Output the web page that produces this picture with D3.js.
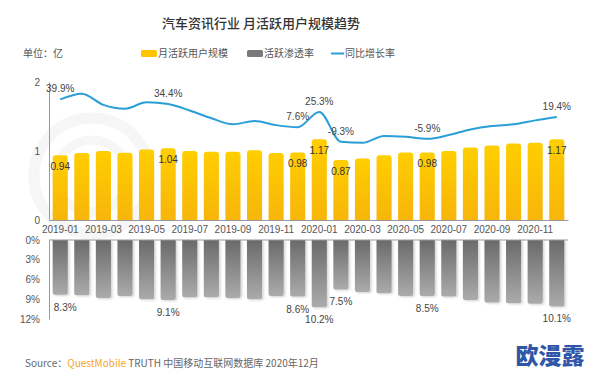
<!DOCTYPE html>
<html>
<head>
<meta charset="utf-8">
<script src="https://cdn.jsdelivr.net/npm/d3@7"></script>
<style>
html,body{margin:0;padding:0;background:#fff;}
svg{display:block;font-family:"Liberation Sans","Noto Sans CJK SC",sans-serif;}
</style>
</head>
<body>
<svg id="c" width="594" height="376"></svg>
<script>
const months = ["2019-01","2019-02","2019-03","2019-04","2019-05","2019-06","2019-07","2019-08","2019-09","2019-10","2019-11","2019-12",
                "2020-01","2020-02","2020-03","2020-04","2020-05","2020-06","2020-07","2020-08","2020-09","2020-10","2020-11","2020-12"];
const mau = [0.94,0.97,1.00,0.975,1.02,1.04,1.00,0.99,0.99,1.01,0.97,0.98,
             1.17,0.87,0.89,0.94,0.98,0.98,1.00,1.05,1.08,1.11,1.12,1.17];
const penetration = [8.3,8.4,8.8,8.5,9.0,9.1,8.7,8.7,8.8,9.0,8.5,8.6,
                     10.2,7.5,7.9,8.1,8.5,8.5,8.6,9.1,9.5,9.6,9.7,10.1];
const growth = [39.9,46.5,33.5,29.0,36.5,34.4,27.0,18.0,11.0,14.8,10.0,7.6,
                25.3,-9.3,-10.5,-2.5,-3.5,-5.9,-1.5,5.0,9.0,11.0,15.5,19.4];
const labelIdx = [0,5,11,12,13,17,23];
const leftTicks = [0,1,2];
const bottomTicks = [0,3,6,9,12];
const xTickLabels = months.filter((m,i)=>i%2===0);

const svg = d3.select("#c");
const defs = svg.append("defs");
const gy = defs.append("linearGradient").attr("id","gy").attr("x1",0).attr("y1",0).attr("x2",0).attr("y2",1);
gy.append("stop").attr("offset","0%").attr("stop-color","#FFCE00");
gy.append("stop").attr("offset","100%").attr("stop-color","#F7B50A");
const gg = defs.append("linearGradient").attr("id","gg").attr("x1",0).attr("y1",0).attr("x2",0).attr("y2",1);
gg.append("stop").attr("offset","0%").attr("stop-color","#6a6a6a");
gg.append("stop").attr("offset","100%").attr("stop-color","#ababab");
const sh = defs.append("filter").attr("id","sh").attr("x","-20%").attr("y","-10%").attr("width","150%").attr("height","130%");
sh.append("feDropShadow").attr("dx",1.5).attr("dy",1).attr("stdDeviation",1).attr("flood-color","#000").attr("flood-opacity",0.18);

// faint watermark ring
const wm = svg.append("g").attr("fill","none").attr("stroke","#f6f6f6");
wm.append("circle").attr("cx",92).attr("cy",176).attr("r",58).attr("stroke-width",11);
wm.append("circle").attr("cx",92).attr("cy",176).attr("r",36).attr("stroke-width",9);

// title
svg.append("text").attr("x",261).attr("y",28).attr("text-anchor","middle")
  .attr("font-size",13).attr("font-weight",500).attr("fill","#333")
  .attr("font-family","Noto Sans CJK SC").text("汽车资讯行业 月活跃用户规模趋势");

svg.append("text").attr("x",23).attr("y",57).attr("font-size",10).attr("fill","#555")
  .attr("font-family","Noto Sans CJK SC").text("单位：亿");

// legend
const lg = svg.append("g").attr("font-size",10).attr("fill","#555").attr("font-family","Noto Sans CJK SC");
lg.append("rect").attr("x",141).attr("y",50).attr("width",16).attr("height",7).attr("rx",1.5).attr("fill","#FFC300");
lg.append("text").attr("x",158).attr("y",57).text("月活跃用户规模");
lg.append("rect").attr("x",247).attr("y",50).attr("width",16).attr("height",7).attr("rx",1.5).attr("fill","#7a7a7a");
lg.append("text").attr("x",264).attr("y",57).text("活跃渗透率");
lg.append("line").attr("x1",331).attr("x2",344).attr("y1",53.5).attr("y2",53.5).attr("stroke","#2A9ED6").attr("stroke-width",2);
lg.append("text").attr("x",345).attr("y",57).text("同比增长率");

// scales
const x = d3.scaleBand().domain(months).range([49,568]).paddingInner(0.3).paddingOuter(0.17);
const yL = d3.scaleLinear().domain([0,2]).range([220,82]);
const yR = d3.scaleLinear().domain([-100,60]).range([220,82]);
const yB = d3.scaleLinear().domain([0,12]).range([240,319]);

// top axes
const axL = svg.append("g").attr("transform","translate(49,0)")
  .call(d3.axisLeft(yL).tickValues(leftTicks).tickSize(0).tickPadding(9).tickFormat(d3.format("d")));
const axX = svg.append("g").attr("transform","translate(0,220)")
  .call(d3.axisBottom(x).tickValues(xTickLabels).tickSize(0).tickPadding(6));
axX.select(".domain").attr("stroke","#999");
axL.select(".domain").attr("stroke","#999");
[axL,axX].forEach(a=>a.selectAll("text").attr("font-size",10).attr("fill","#555").attr("font-family","Liberation Sans"));

// yellow bars
const bw = x.bandwidth();
svg.append("g").selectAll("path").data(months).join("path")
  .attr("fill","url(#gy)")
  .attr("d",(m,i)=>{
    const x0=x(m), y0=yL(mau[i]), y1=yL(0), r=3;
    return `M${x0},${y1}V${y0+r}Q${x0},${y0} ${x0+r},${y0}H${x0+bw-r}Q${x0+bw},${y0} ${x0+bw},${y0+r}V${y1}Z`;
  });

// bar labels
svg.append("g").selectAll("text").data(labelIdx).join("text")
  .attr("x",i=>x(months[i])+bw/2).attr("y",i=>yL(mau[i])+15)
  .attr("text-anchor","middle").attr("font-size",10).attr("fill","#333")
  .text(i=>mau[i].toFixed(2));

// line
const line = d3.line().x((d,i)=>x(months[i])+bw/2).y(d=>yR(d)).curve(d3.curveMonotoneX);
svg.append("path").datum(growth).attr("d",line).attr("fill","none").attr("stroke","#2A9ED6").attr("stroke-width",2);
svg.append("g").selectAll("text").data(labelIdx).join("text")
  .attr("x",i=>x(months[i])+bw/2).attr("y",i=>yR(growth[i])-7)
  .attr("text-anchor","middle").attr("font-size",10).attr("fill","#444")
  .text(i=>growth[i].toFixed(1)+"%");

// bottom chart
svg.append("g").selectAll("path").data(months).join("path")
  .attr("fill","url(#gg)").attr("filter","url(#sh)")
  .attr("d",(m,i)=>{
    const x0=x(m), y0=yB(0), y1=yB(penetration[i]), r=2;
    return `M${x0},${y0}V${y1-r}Q${x0},${y1} ${x0+r},${y1}H${x0+bw-r}Q${x0+bw},${y1} ${x0+bw},${y1-r}V${y0}Z`;
  });
const axB = svg.append("g").attr("transform","translate(49,0)")
  .call(d3.axisLeft(yB).tickValues(bottomTicks).tickSize(0).tickPadding(9).tickFormat(d=>d+"%"));
axB.select(".domain").attr("stroke","#999");
axB.selectAll("text").attr("font-size",10).attr("fill","#555");
svg.append("line").attr("x1",49).attr("x2",568).attr("y1",240).attr("y2",240).attr("stroke","#999");
svg.append("g").selectAll("text").data(labelIdx).join("text")
  .attr("x",i=>x(months[i])+bw/2+(i===0?5:0)).attr("y",i=>yB(penetration[i])+16)
  .attr("text-anchor","middle").attr("font-size",10).attr("fill","#444")
  .text(i=>penetration[i].toFixed(1)+"%");

// source
const src = svg.append("text").attr("x",25).attr("y",367).attr("font-size",10).attr("fill","#666")
  .attr("font-family","Noto Sans CJK SC");
src.append("tspan").text("Source：");
src.append("tspan").attr("fill","#F5A623").text("QuestMobile");
src.append("tspan").text(" TRUTH 中国移动互联网数据库 2020年12月");

svg.append("text").attr("x",550).attr("y",364).attr("text-anchor","middle")
  .attr("font-size",23).attr("font-weight",900).attr("fill","#3056A8")
  .attr("font-family","Noto Sans CJK SC").text("欧漫露");
</script>
</body>
</html>
